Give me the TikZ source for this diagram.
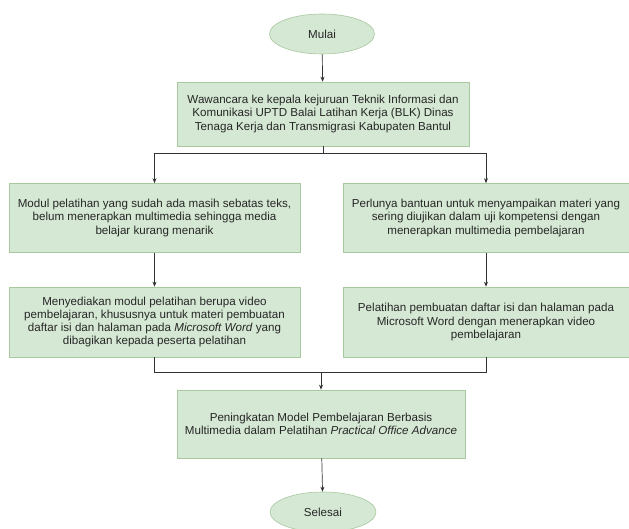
\documentclass[tikz,border=0pt]{standalone}
\usepackage{fontspec}
\setmainfont{Liberation Sans}
\usetikzlibrary{arrows.meta,shapes.geometric}
\definecolor{boxfill}{HTML}{D5E8D4}
\definecolor{boxline}{HTML}{A8C8A0}
\definecolor{linec}{HTML}{333333}
\begin{document}
\begin{tikzpicture}[x=1pt,y=-1pt,
  proc/.style={draw=boxline,fill=boxfill,line width=0.6pt,align=center,inner sep=2pt,
    font=\fontsize{11.6}{13.3}\selectfont,text=black!85},
  term/.style={draw=boxline,fill=boxfill,ellipse,line width=0.6pt,inner sep=0pt,
    font=\fontsize{11.6}{13.3}\selectfont,text=black!85},
  conn/.style={draw=linec,line width=0.7pt},
  arr/.style={conn,-{Stealth[length=5pt,width=4pt]}}]
\useasboundingbox (0,0) rectangle (629,529);
\fill[white] (0,0) rectangle (629,529);
\node[term,minimum width=105,minimum height=40] (mulai) at (322,34) {Mulai};
\node[proc,minimum width=292,minimum height=64] (wawan) at (323,114)
  {Wawancara ke kepala kejuruan Teknik Informasi dan\\Komunikasi UPTD Balai Latihan Kerja (BLK) Dinas\\Tenaga Kerja dan Transmigrasi Kabupaten Bantul};
\node[proc,minimum width=291,minimum height=69] (modul) at (154.5,218)
  {Modul pelatihan yang sudah ada masih sebatas teks,\\belum menerapkan multimedia sehingga media\\belajar kurang menarik};
\node[proc,minimum width=286,minimum height=69] (perlu) at (486,218)
  {Perlunya bantuan untuk menyampaikan materi yang\\sering diujikan dalam uji kompetensi dengan\\menerapkan multimedia pembelajaran};
\node[proc,minimum width=291,minimum height=70] (sedia) at (154.5,322)
  {Menyediakan modul pelatihan berupa video\\pembelajaran, khususnya untuk materi pembuatan\\daftar isi dan halaman pada \textit{Microsoft Word} yang\\dibagikan kepada peserta pelatihan};
\node[proc,minimum width=286,minimum height=70] (latih) at (486,322)
  {Pelatihan pembuatan daftar isi dan halaman pada\\Microsoft Word dengan menerapkan video\\pembelajaran};
\node[proc,minimum width=288,minimum height=68] (tingkat) at (321,424)
  {Peningkatan Model Pembelajaran Berbasis\\Multimedia dalam Pelatihan \textit{Practical Office Advance}};
\node[term,minimum width=106,minimum height=40] (selesai) at (323,512) {Selesai};
\coordinate (split) at (323,153);
\coordinate (join) at (321,372);
\draw[arr] (mulai) -- (wawan);
\draw[conn] (wawan.south) -- (split);
\draw[arr] (split) -| (modul.north);
\draw[arr] (split) -| (perlu.north);
\draw[arr] (modul) -- (sedia);
\draw[arr] (perlu) -- (latih);
\draw[conn] (sedia.south) |- (join);
\draw[conn] (latih.south) |- (join);
\draw[arr] (join) -- (tingkat.north);
\draw[arr] (tingkat) -- (selesai);
\end{tikzpicture}
\end{document}
